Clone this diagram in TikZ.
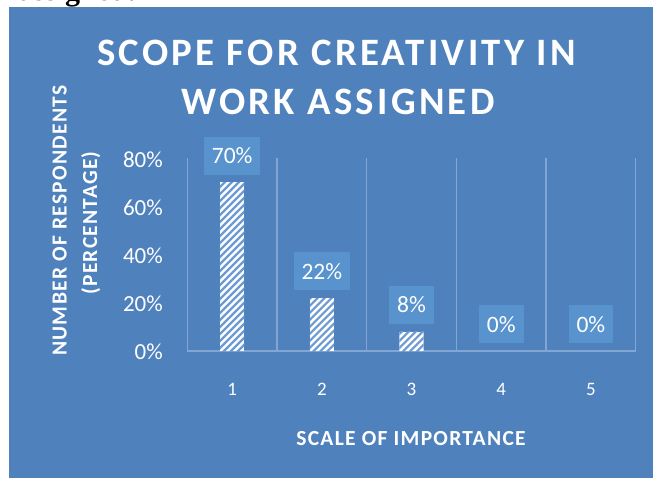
\documentclass[tikz,border=0pt]{standalone}
\usepackage{fontspec}
\setmainfont{Carlito}
\newfontfamily\titlefont[LetterSpace=8.5]{Carlito}
\newfontfamily\axfont[LetterSpace=6]{Carlito}
\newfontfamily\serifb{Liberation Serif}
\definecolor{chartbg}{HTML}{4F81BD}
\definecolor{gridc}{HTML}{82A5D4}
\definecolor{labbox}{HTML}{5893CE}
\definecolor{stripec}{HTML}{6C9AD4}
\tikzset{
  gridline/.style={draw=gridc, line width=1.2pt},
  datalab/.style={fill=labbox, text=white, inner xsep=8pt, inner ysep=0pt, minimum height=38pt, anchor=south, font=\fontsize{23.5}{23.5}\selectfont},
  ticklab/.style={text=white, anchor=east, inner sep=0pt, font=\fontsize{23}{23}\selectfont},
  catlab/.style={text=white, inner sep=0pt, font=\fontsize{19}{19}\selectfont},
  axtitle/.style={text=white, inner sep=0pt, anchor=base, font=\axfont\bfseries\fontsize{21.5}{21.5}\selectfont},
  titletext/.style={text=white, inner sep=0pt, anchor=base, font=\titlefont\bfseries\fontsize{38.8}{38.8}\selectfont},
  stripe/.style={draw=stripec, line width=2.2pt}
}
\begin{document}
\begin{tikzpicture}[x=1pt,y=-1pt]
\useasboundingbox (0,0) rectangle (653,478);
\fill[white] (0,0) rectangle (653,478);
\begin{scope}
  \clip (0,0) rectangle (653,478);
  \node[anchor=base east, inner sep=0pt, font=\serifb\bfseries\fontsize{30}{30}\selectfont] (cap) at (137,1) {r assigned:};
\end{scope}
\fill[chartbg] (9,7) rectangle (653,478);
% title
\node[titletext] (t1) at (336.5,65.7) {SCOPE FOR CREATIVITY IN};
\node[titletext] (t2) at (338,115) {WORK ASSIGNED};
% gridlines
\foreach \i in {0,...,5} {
  \draw[gridline] ({187.3+89.68*\i},158.3) -- ({187.3+89.68*\i},351);
}
\draw[gridline] (187.3,351) -- (635.7,351);
% tick labels
\foreach \v in {0,20,40,60,80} {
  \node[ticklab] (tk\v) at (163,{351-2.409*\v+1}) {\v\%};
}
% bars
\foreach \k/\v in {1/70,2/22,3/8} {
  \pgfmathsetmacro{\cx}{232.15+89.68*(\k-1)}
  \pgfmathsetmacro{\top}{351-2.409*\v}
  \begin{scope}
    \clip ({\cx-12.2},\top) rectangle ({\cx+12.2},351);
    \fill[white] ({\cx-12.2},\top) rectangle ({\cx+12.2},351);
    \foreach \s in {-200,-193,...,20} {
      \draw[stripe] ({\cx-12.2+\s},352) -- ++(200,-200);
    }
  \end{scope}
}
% data labels
\foreach \k/\v in {1/70,2/22,3/8,4/0,5/0} {
  \node[datalab] (d\k) at ({232.15+89.68*(\k-1)},{351-2.409*\v-7.5}) {\v\%};
}
% category labels
\foreach \k in {1,...,5} {
  \node[catlab] (c\k) at ({232.15+89.68*(\k-1)},389) {\k};
}
% axis titles
\node[axtitle] (xt) at (411,445) {SCALE OF IMPORTANCE};
\node[axtitle, rotate=90] (yt1) at (66.7,220.5) {NUMBER OF RESPONDENTS};
\node[axtitle, rotate=90] (yt2) at (97,223) {(PERCENTAGE)};
\end{tikzpicture}
\end{document}
